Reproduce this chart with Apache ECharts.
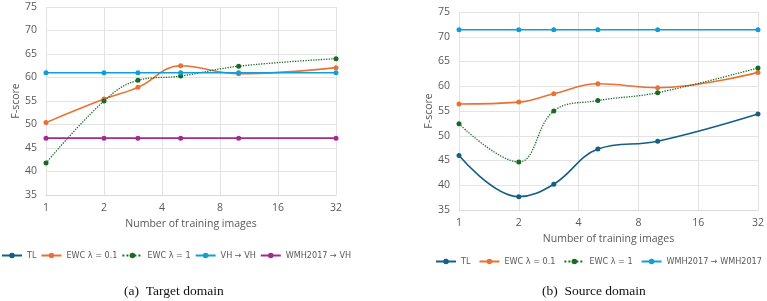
<!DOCTYPE html>
<html><head><meta charset="utf-8">
<script src="https://cdn.jsdelivr.net/npm/echarts@6/dist/echarts.min.js"></script>
<style>html,body{margin:0;padding:0;background:#fff}#c{width:767px;height:301px}</style>
</head><body><div id="c"></div>
<script>
const trainingImages = [1, 2, 3, 5, 10, 32];
const yTicks = { min: 35, max: 75, step: 5 };
const xTicks = { min: 1, max: 32 };

// (a) Target domain
const targetTL = [];
const targetEWC01 = [50.4, 55.4, 57.9, 62.5, 60.8, 62.1];
const targetEWC1 = [41.8, 55.0, 59.4, 60.3, 62.4, 64.0];
const targetVHVH = [61.0, 61.0, 61.0, 61.0, 61.0, 61.0];
const targetWMHVH = [47.1, 47.1, 47.1, 47.1, 47.1, 47.1];

// (b) Source domain
const sourceTL = [46.0, 37.7, 40.2, 47.3, 48.9, 54.4];
const sourceEWC01 = [56.4, 56.8, 58.5, 60.5, 59.7, 62.8];
const sourceEWC1 = [52.4, 44.7, 55.0, 57.1, 58.7, 63.7];
const sourceWMHWMH = [71.4, 71.4, 71.4, 71.4, 71.4, 71.4];

const names = {
  tl: 'TL', e01: 'EWC λ = 0.1', e1: 'EWC λ = 1',
  vh: 'VH → VH', wv: 'WMH2017 → VH', ww: 'WMH2017 → WMH2017'
};
const colors = { tl: '#156082', e01: '#E97132', e1: '#196B24', vh: '#0F9ED5', wv: '#A02B93', ww: '#0F9ED5' };

function pts(arr) { return arr.map((v, i) => [trainingImages[i], v]); }
const FONT = 'Open Sans';
const LFONT = '"Liberation Sans Narrow", "DejaVu Sans Condensed", Roboto';
const gray = '#595959';

function xAxis(gi) {
  return {
    gridIndex: gi, type: 'log', logBase: 2, min: xTicks.min, max: xTicks.max,
    name: 'Number of training images', nameLocation: 'middle', nameGap: 24,
    nameTextStyle: { color: gray, fontSize: 10.5, fontFamily: FONT },
    axisLine: { show: true, lineStyle: { color: '#d9d9d9' } }, axisTick: { show: false },
    axisLabel: { color: gray, fontSize: 10.5, fontFamily: FONT, margin: 8 },
    splitLine: { show: true, lineStyle: { color: '#e3e3e3' } }, minorTick: { show: false }
  };
}
function yAxis(gi) {
  return {
    gridIndex: gi, type: 'value', min: yTicks.min, max: yTicks.max, interval: yTicks.step,
    name: 'F-score', nameLocation: 'middle', nameGap: 20, nameRotate: 90,
    nameTextStyle: { color: gray, fontSize: 10.5, fontFamily: FONT },
    axisLine: { show: false }, axisTick: { show: false },
    axisLabel: { color: gray, fontSize: 10.5, fontFamily: FONT, margin: 9 },
    splitLine: { show: true, lineStyle: { color: '#e3e3e3' } }
  };
}
function s(key, data, gi, dotted) {
  return {
    name: names[key], type: 'line', xAxisIndex: gi, yAxisIndex: gi, data: pts(data),
    smooth: 0.4, symbol: 'circle', symbolSize: 5,
    itemStyle: { color: colors[key] },
    lineStyle: { color: colors[key], width: dotted ? 1.3 : 1.6, type: dotted ? 'dotted' : 'solid' },
    emphasis: { disabled: true }, animation: false
  };
}

const legendText = { color: gray, fontSize: 9, fontFamily: LFONT };
const chart = echarts.init(document.getElementById('c'), null, { renderer: 'canvas' });
chart.setOption({
  animation: false,
  textStyle: { fontFamily: FONT },
  grid: [
    { left: 46, top: 7, width: 290, height: 188 },
    { left: 459, top: 12, width: 300, height: 198 }
  ],
  xAxis: [xAxis(0), xAxis(1)],
  yAxis: [yAxis(0), yAxis(1)],
  legend: [
    { data: [names.tl, names.e01, names.e1, names.vh, names.wv], left: 1, top: 251, width: 500,
      itemWidth: 20, itemHeight: 7, itemGap: 4, padding: 0, textStyle: legendText },
    { data: [names.tl, names.e01, names.e1, names.ww], left: 435, top: 257, width: 500,
      itemWidth: 20, itemHeight: 7, itemGap: 8, padding: 0, textStyle: legendText }
  ],
  series: [
    s('tl', targetTL, 0), s('e01', targetEWC01, 0), s('e1', targetEWC1, 0, true),
    s('vh', targetVHVH, 0), s('wv', targetWMHVH, 0),
    s('tl', sourceTL, 1), s('e01', sourceEWC01, 1), s('e1', sourceEWC1, 1, true),
    s('ww', sourceWMHWMH, 1)
  ],
  graphic: [
    { type: 'text', left: 124, top: 284, style: { text: '(a)  Target domain', font: '13.5px "Liberation Serif", serif', fill: '#111' } },
    { type: 'text', left: 542, top: 284, style: { text: '(b)  Source domain', font: '13.5px "Liberation Serif", serif', fill: '#111' } }
  ]
});
</script></body></html>
